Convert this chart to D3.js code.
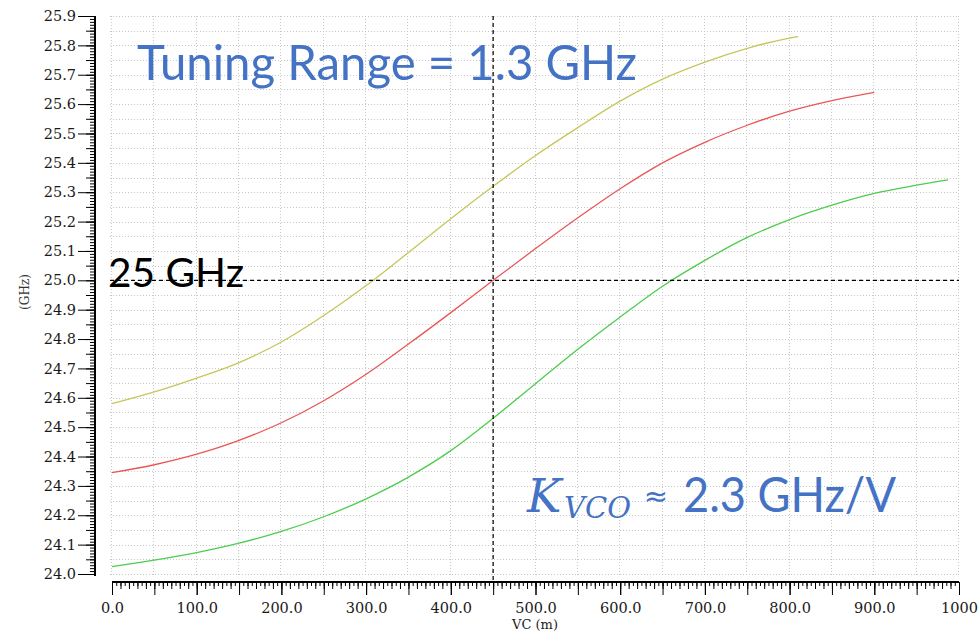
<!DOCTYPE html>
<html>
<head>
<meta charset="utf-8">
<script src="https://cdn.jsdelivr.net/npm/d3@7"></script>
<style>
  body { margin: 0; background: #fff; }
  svg { display: block; }
</style>
</head>
<body>
<svg id="chart" width="979" height="634"></svg>
<script>
// Frequency vs control voltage, three corners
const vcYellow = [0, 50, 100, 150, 200, 250, 300, 350, 400, 450, 500, 550, 600, 650, 700, 750, 800, 810];
const fYellow  = [24.58, 24.62, 24.667, 24.72, 24.79, 24.88, 24.982, 25.095, 25.21, 25.32, 25.425, 25.52, 25.61, 25.685, 25.743, 25.79, 25.825, 25.83];

const vcRed = [0, 50, 100, 150, 200, 250, 300, 350, 400, 450, 500, 550, 600, 650, 700, 750, 800, 850, 900];
const fRed  = [24.345, 24.372, 24.408, 24.455, 24.515, 24.59, 24.68, 24.783, 24.89, 25.0, 25.108, 25.213, 25.312, 25.4, 25.47, 25.528, 25.576, 25.612, 25.64];

const vcGreen = [0, 50, 100, 150, 200, 250, 300, 350, 400, 450, 500, 550, 600, 650, 700, 750, 800, 850, 900, 950, 987];
const fGreen  = [24.025, 24.047, 24.073, 24.105, 24.145, 24.195, 24.256, 24.33, 24.42, 24.53, 24.648, 24.765, 24.875, 24.98, 25.068, 25.146, 25.207, 25.256, 25.296, 25.324, 25.342];

const xTickLabels = ["0.0", "100.0", "200.0", "300.0", "400.0", "500.0", "600.0", "700.0", "800.0", "900.0", "1000"];
const markerVC = 450;
const markerF = 25.0;

const svg = d3.select("#chart");

const x = d3.scaleLinear().domain([0, 1000]).range([112, 959]);
const y = d3.scaleLinear().domain([24.0, 25.9]).range([574, 16]);

const serif = "'DejaVu Serif', serif";

// dotted grid
const grid = svg.append("g")
  .attr("stroke", "#c8c8c8")
  .attr("stroke-width", 1)
  .attr("stroke-dasharray", "1,2");

grid.selectAll("line.h")
  .data(d3.range(0, 39).map(i => 24.0 + i * 0.05))
  .enter().append("line")
  .attr("x1", 110).attr("x2", 959)
  .attr("y1", d => Math.round(y(d)) + 0.5)
  .attr("y2", d => Math.round(y(d)) + 0.5);

grid.selectAll("line.v")
  .data(d3.range(0, 21).map(i => i * 50))
  .enter().append("line")
  .attr("y1", 16).attr("y2", 576)
  .attr("x1", d => Math.round(x(d)) - 0.5)
  .attr("x2", d => Math.round(x(d)) - 0.5);

// y axis: minor, medium and major ticks
const yAxisG = svg.append("g").attr("transform", "translate(95,0)");
yAxisG.append("g").call(d3.axisLeft(y).tickValues(d3.range(0, 191).map(i => 24.0 + i * 0.01)).tickSize(5).tickFormat(""));
yAxisG.append("g").call(d3.axisLeft(y).tickValues(d3.range(0, 39).map(i => 24.0 + i * 0.05)).tickSize(9).tickFormat(""));
yAxisG.append("g").call(d3.axisLeft(y).tickValues(d3.range(0, 20).map(i => 24.0 + i * 0.1))
  .tickSize(17).tickPadding(2).tickFormat(d3.format(".1f")));
yAxisG.selectAll(".domain").attr("stroke-width", 2).attr("d", "M0,16V576");
yAxisG.selectAll("text").style("font-family", serif).style("font-size", "14.5px").attr("fill", "#1a1a1a");

svg.append("text")
  .attr("transform", "translate(29,292) rotate(-90)")
  .attr("text-anchor", "middle")
  .style("font-family", serif)
  .style("font-size", "12px")
  .attr("fill", "#333")
  .text("(GHz)");

// x axis
const xAxisG = svg.append("g").attr("transform", "translate(0,582)");
xAxisG.append("g").call(d3.axisBottom(x).tickValues(d3.range(0, 201).map(i => i * 5)).tickSize(4).tickFormat(""));
xAxisG.append("g").call(d3.axisBottom(x).tickValues(d3.range(0, 101).map(i => i * 10)).tickSize(7).tickFormat(""));
xAxisG.append("g").call(d3.axisBottom(x).tickValues(d3.range(0, 21).map(i => i * 50)).tickSize(13).tickFormat(""));
xAxisG.append("g").call(d3.axisBottom(x).tickValues(d3.range(0, 11).map(i => i * 100))
  .tickSize(13).tickPadding(8).tickFormat((d, i) => xTickLabels[i]));
xAxisG.selectAll(".domain").attr("stroke-width", 2).attr("d", "M112,0H959");
xAxisG.selectAll("text").style("font-family", serif).style("font-size", "14.5px").attr("fill", "#1a1a1a");

svg.append("text")
  .attr("x", 535).attr("y", 629)
  .attr("text-anchor", "middle")
  .style("font-family", serif)
  .style("font-size", "13px")
  .attr("fill", "#222")
  .text("VC (m)");

// curves
const line = d3.line().x(d => x(d[0])).y(d => y(d[1])).curve(d3.curveMonotoneX);
const series = [
  { vc: vcYellow, f: fYellow, color: "#c6c65a" },
  { vc: vcRed, f: fRed, color: "#ea5656" },
  { vc: vcGreen, f: fGreen, color: "#4ccd4c" }
];
series.forEach(s => {
  svg.append("path")
    .datum(s.vc.map((v, i) => [v, s.f[i]]))
    .attr("fill", "none")
    .attr("stroke", s.color)
    .attr("stroke-width", 1.3)
    .attr("d", line);
});

// crosshair markers
svg.append("line")
  .attr("x1", x(markerVC)).attr("x2", x(markerVC))
  .attr("y1", 16).attr("y2", 582)
  .attr("stroke", "#000").attr("stroke-width", 1.2).attr("stroke-dasharray", "4,3");
svg.append("line")
  .attr("x1", 110).attr("x2", 959)
  .attr("y1", y(markerF)).attr("y2", y(markerF))
  .attr("stroke", "#000").attr("stroke-width", 1.2).attr("stroke-dasharray", "4,3");

// annotations
const sans = "Lato, 'Open Sans', sans-serif";
svg.append("text")
  .attr("x", 137).attr("y", 80)
  .attr("textLength", 500).attr("lengthAdjust", "spacingAndGlyphs")
  .style("font-family", sans).style("font-size", "49px")
  .attr("fill", "#4472c4")
  .text("Tuning Range = 1.3 GHz");

svg.append("text")
  .attr("x", 108).attr("y", 287)
  .attr("textLength", 136).attr("lengthAdjust", "spacingAndGlyphs")
  .style("font-family", sans).style("font-size", "40px")
  .attr("fill", "#000")
  .text("25 GHz");

svg.append("text")
  .attr("x", 527).attr("y", 512)
  .style("font-family", serif).style("font-style", "italic").style("font-size", "46px")
  .attr("fill", "#4472c4")
  .text("K");
svg.append("text")
  .attr("x", 564).attr("y", 518)
  .attr("textLength", 67).attr("lengthAdjust", "spacingAndGlyphs")
  .style("font-family", serif).style("font-style", "italic").style("font-size", "30px")
  .attr("fill", "#4472c4")
  .text("VCO");
svg.append("text")
  .attr("x", 656).attr("y", 506)
  .attr("text-anchor", "middle")
  .style("font-family", "'DejaVu Sans', sans-serif").style("font-size", "29px")
  .attr("fill", "#4472c4")
  .text("≈");
svg.append("text")
  .attr("x", 683).attr("y", 512)
  .attr("textLength", 213).attr("lengthAdjust", "spacingAndGlyphs")
  .style("font-family", sans).style("font-size", "48px")
  .attr("fill", "#4472c4")
  .text("2.3 GHz/V");
</script>
</body>
</html>
